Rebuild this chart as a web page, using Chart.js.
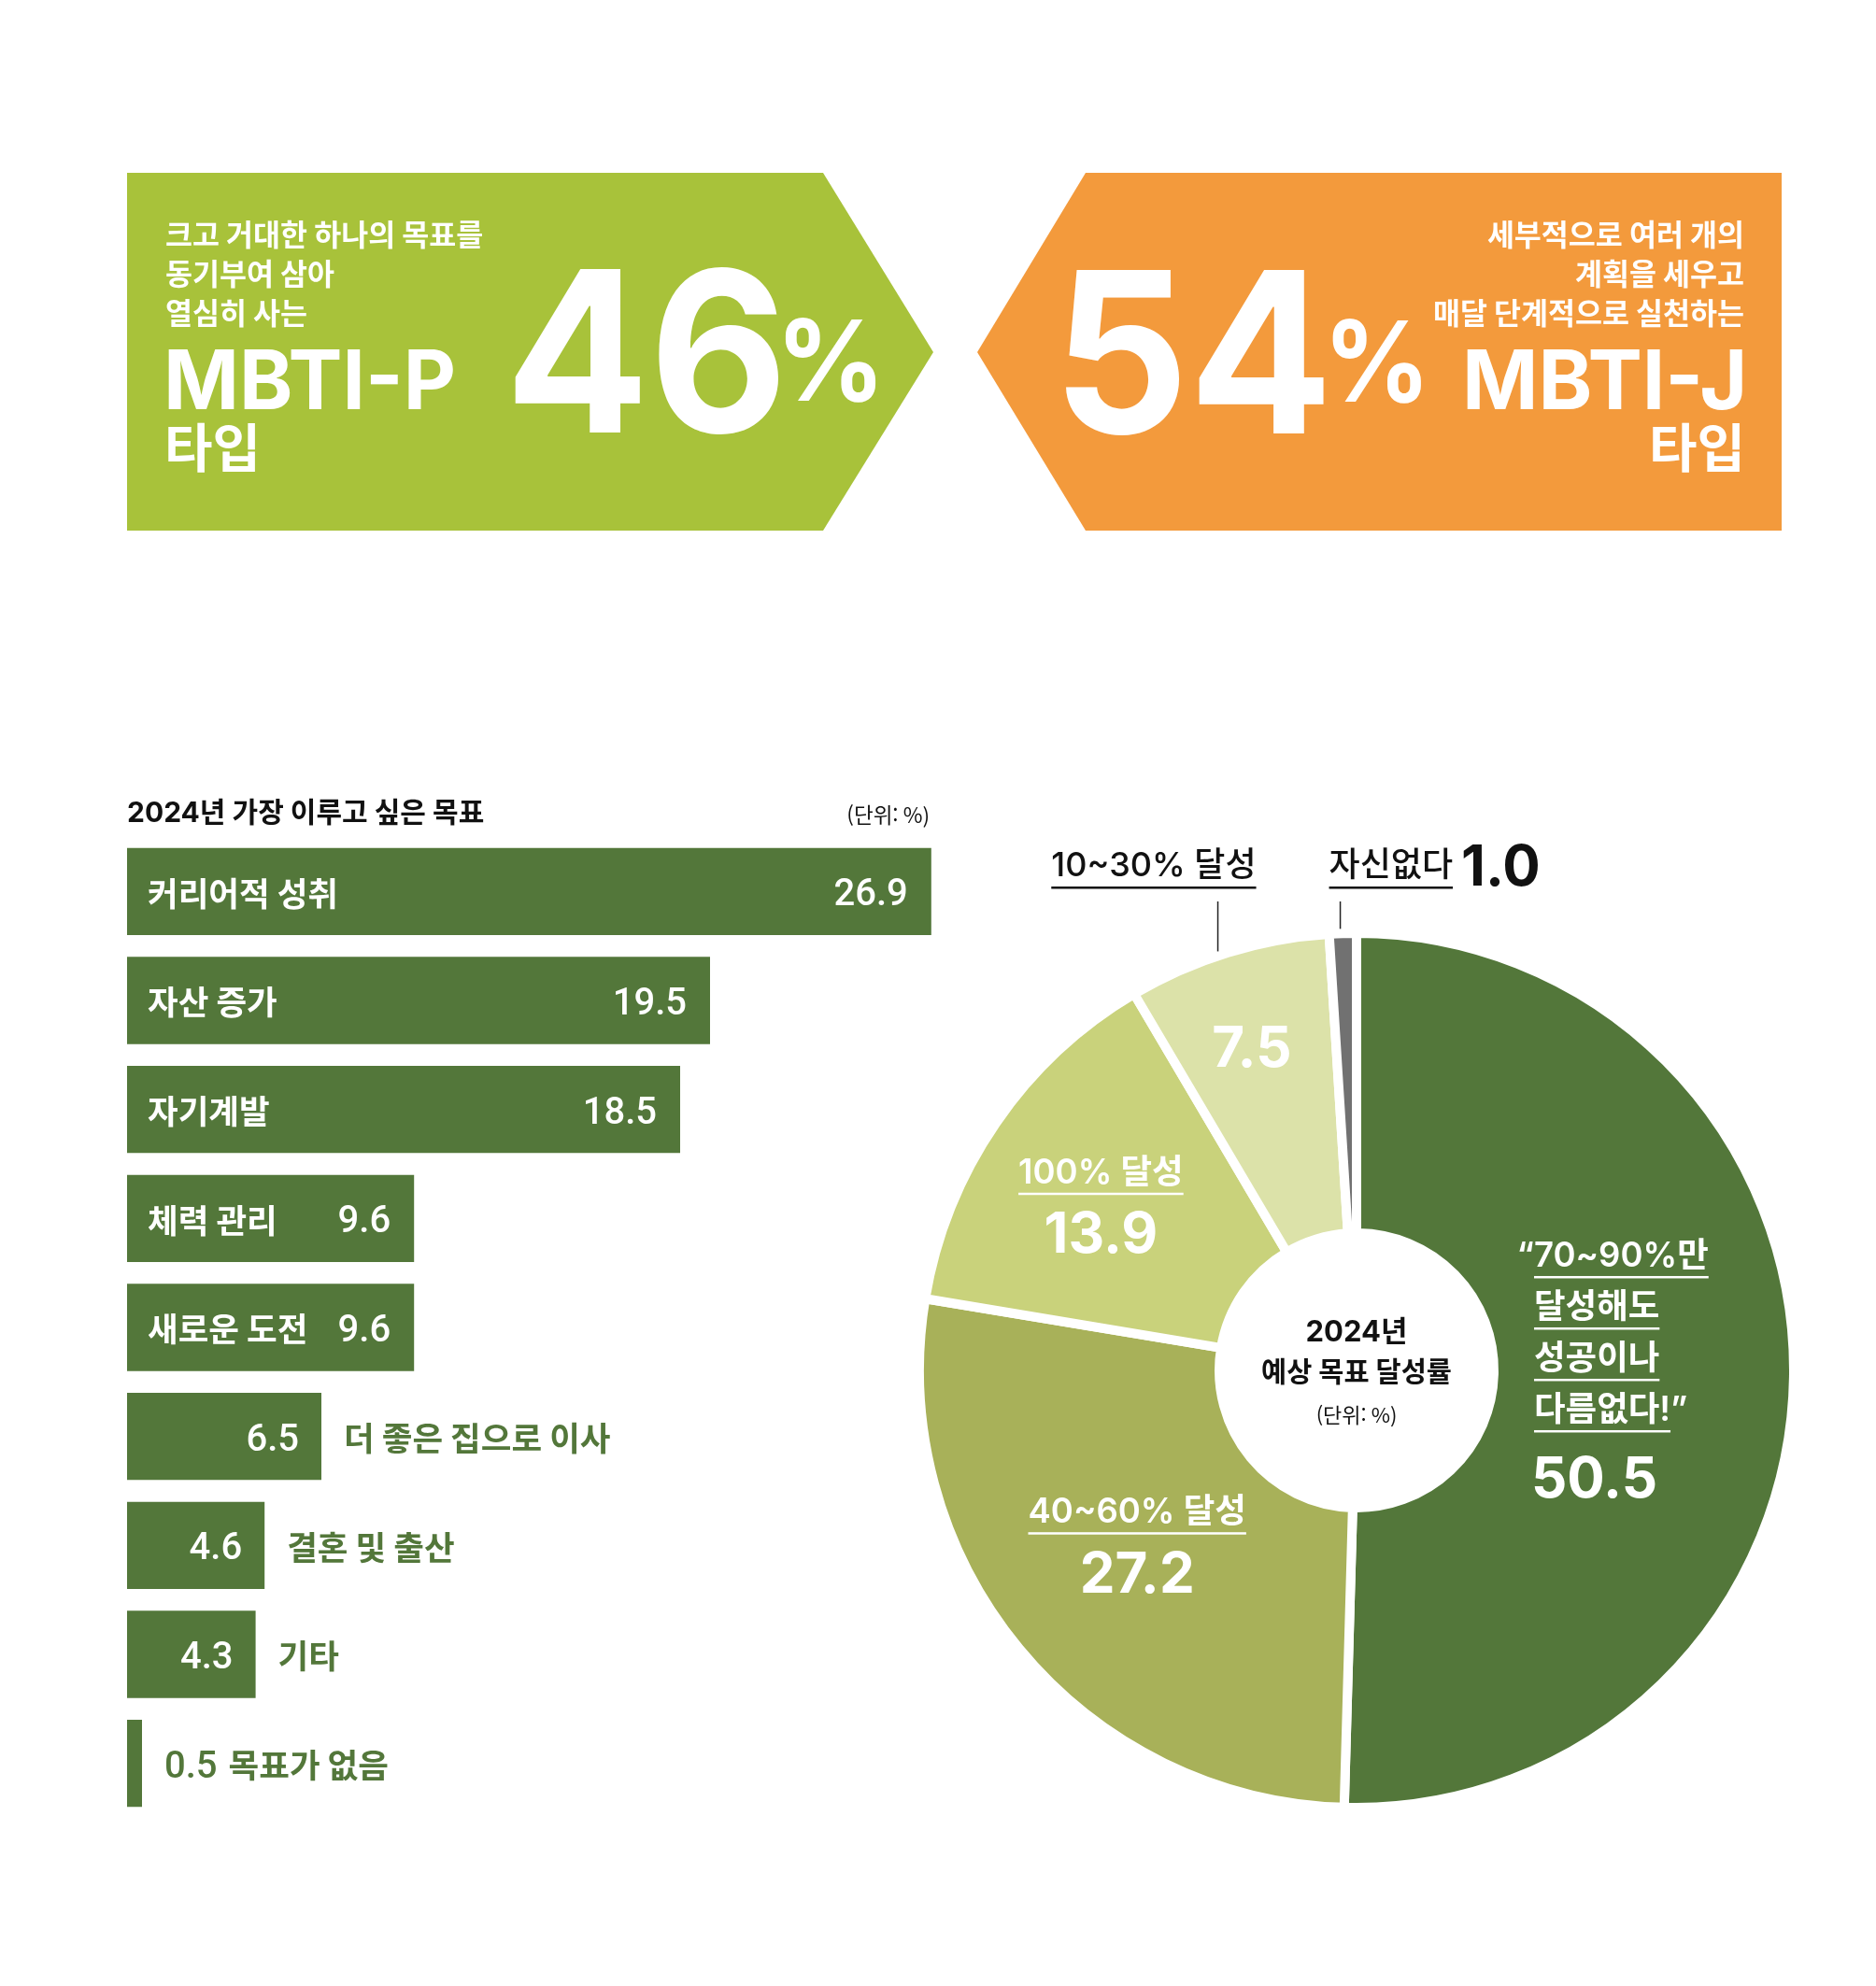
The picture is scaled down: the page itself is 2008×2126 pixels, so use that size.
<!DOCTYPE html>
<html lang="ko">
<head>
<meta charset="utf-8">
<title>2024 목표 달성률</title>
<script src="https://cdn.jsdelivr.net/npm/chart.js@4.4.1/dist/chart.umd.min.js"></script>
<style>
  html, body { margin: 0; padding: 0; background: #fff; }
  body { width: 2008px; height: 2126px; position: relative; overflow: hidden; }
  canvas { position: absolute; }
  #page { left: 0; top: 0; }
  #goalChart { left: 136px; top: 896px; }
  #rateChart { left: 969px; top: 880px; }
</style>
</head>
<body>
<canvas id="page" width="2008" height="2126"></canvas>
<canvas id="goalChart" width="880" height="1050"></canvas>
<canvas id="rateChart" width="966" height="1110"></canvas>
<script>
// 상단 MBTI 비율
const typeNames = ['MBTI-P', 'MBTI-J'];
const typeShares = [46, 54];
const typeDescP = ['크고 거대한 하나의 목표를', '동기부여 삼아', '열심히 사는'];
const typeDescJ = ['세부적으로 여러 개의', '계획을 세우고', '매달 단계적으로 실천하는'];
const typeSuffix = '타입';

// 2024년 가장 이루고 싶은 목표
const goalTitle = '2024년 가장 이루고 싶은 목표';
const goalLabels = ['커리어적 성취', '자산 증가', '자기계발', '체력 관리', '새로운 도전',
                    '더 좋은 집으로 이사', '결혼 및 출산', '기타', '목표가 없음'];
const goalValues = [26.9, 19.5, 18.5, 9.6, 9.6, 6.5, 4.6, 4.3, 0.5];

// 예상 목표 달성률
const rateCenter = ['2024년', '예상 목표 달성률'];
const rateLabels = [
    ['“70~90%만', '달성해도', '성공이나', '다름없다!”'],
    ['40~60% 달성'],
    ['100% 달성'],
    ['10~30% 달성'],
    ['자신없다']
];
const rateValues = [50.5, 27.2, 13.9, 7.5, 1.0];
const unitText = '(단위: %)';

// 스타일
const GREEN = '#53773A';
const LIME = '#A8C23A';
const ORANGE = '#F39A3C';
const INK = '#111';
const RATE_COLORS = ['#53773A', '#A8B159', '#C9D27B', '#DCE2A9', '#717171'];
const KR = '"Noto Sans CJK KR", "Noto Sans", sans-serif';
const NUM = 'Inter, "Noto Sans CJK KR", sans-serif';

// 잉크 폭을 맞춰서 글자 그리기
function fitInk(ctx, text, x0, x1, baseline) {
    ctx.textAlign = 'left';
    ctx.textBaseline = 'alphabetic';
    const m = ctx.measureText(text);
    const ink = m.actualBoundingBoxLeft + m.actualBoundingBoxRight;
    ctx.save();
    ctx.translate(x0, baseline);
    ctx.scale((x1 - x0) / ink, 1);
    ctx.fillText(text, m.actualBoundingBoxLeft, 0);
    ctx.restore();
}

function polygon(ctx, color, pts) {
    ctx.fillStyle = color;
    ctx.beginPath();
    pts.forEach(([x, y], i) => i ? ctx.lineTo(x, y) : ctx.moveTo(x, y));
    ctx.closePath();
    ctx.fill();
}

// 밑줄 텍스트 (y = 글자 중심)
function underlined(ctx, text, x, y, align, color, gap) {
    ctx.fillStyle = color;
    ctx.textAlign = 'left';
    ctx.textBaseline = 'middle';
    const lead = text.startsWith('“') ? '“' : '';
    const core = text.replace(/^“/, '').replace(/”$/, '');
    const w = ctx.measureText(core).width;
    const left = align === 'center' ? x - w / 2 : x;
    const leadW = lead ? ctx.measureText(lead).width : 0;
    ctx.fillText(text, left - leadW, y);
    ctx.fillRect(left, y + gap, w, 2.5);
    return { left, right: left + w };
}

function drawPage() {
    const ctx = document.getElementById('page').getContext('2d');

    polygon(ctx, LIME, [[136, 185], [881, 185], [999, 377], [881, 568], [136, 568]]);
    polygon(ctx, ORANGE, [[1046, 377], [1162, 185], [1907, 185], [1907, 568], [1162, 568]]);

    ctx.fillStyle = '#fff';
    ctx.font = `700 31.5px ${KR}`;
    ctx.textBaseline = 'middle';
    ctx.textAlign = 'left';
    typeDescP.forEach((t, i) => ctx.fillText(t, 177, 251 + i * 42));
    ctx.textAlign = 'right';
    typeDescJ.forEach((t, i) => ctx.fillText(t, 1867, 251 + i * 42));

    ctx.font = `700 56px ${KR}`;
    ctx.textAlign = 'left';
    ctx.fillText(typeSuffix, 176, 479);
    ctx.textAlign = 'right';
    ctx.fillText(typeSuffix, 1868, 479);

    ctx.font = `700 88px ${NUM}`;
    fitInk(ctx, typeNames[0], 180, 485, 438);
    fitInk(ctx, typeNames[1], 1570, 1865, 438);

    ctx.font = `700 240px ${NUM}`;
    fitInk(ctx, String(typeShares[0]), 551, 833, 463);
    fitInk(ctx, String(typeShares[1]), 1141, 1417, 464);
    ctx.font = `700 120px ${NUM}`;
    fitInk(ctx, '%', 840, 937, 429);
    fitInk(ctx, '%', 1426, 1521, 430);

    // 막대 차트 제목
    ctx.fillStyle = INK;
    ctx.textBaseline = 'middle';
    ctx.textAlign = 'left';
    ctx.font = `700 30px ${NUM}`;
    ctx.fillText(goalTitle, 136, 871);
    ctx.textAlign = 'right';
    ctx.font = `400 22.5px ${KR}`;
    ctx.fillText(unitText, 995, 872);
}

const NAME_FONT = `700 35.5px ${KR}`;
const VALUE_FONT = `500 40px Roboto, ${KR}`;

const goalLabelPlugin = {
    id: 'goalLabels',
    afterDatasetsDraw(chart) {
        const { ctx } = chart;
        const bars = chart.getDatasetMeta(0).data;
        ctx.save();
        ctx.textBaseline = 'middle';
        bars.forEach((bar, i) => {
            const name = goalLabels[i];
            const num = goalValues[i].toFixed(1);
            const w = bar.x - bar.base;
            const ny = bar.y + 2, vy = bar.y + 5;
            if (w > 250) {
                ctx.fillStyle = '#fff';
                ctx.font = NAME_FONT;
                ctx.textAlign = 'left';
                ctx.fillText(name, bar.base + 22, ny);
                ctx.font = VALUE_FONT;
                ctx.textAlign = 'right';
                ctx.fillText(num, bar.x - 25, vy);
            } else if (w > 60) {
                ctx.fillStyle = '#fff';
                ctx.font = VALUE_FONT;
                ctx.textAlign = 'right';
                ctx.fillText(num, bar.x - 24, vy);
                ctx.fillStyle = GREEN;
                ctx.font = NAME_FONT;
                ctx.textAlign = 'left';
                ctx.fillText(name, bar.x + 24, ny);
            } else {
                ctx.fillStyle = GREEN;
                ctx.font = VALUE_FONT;
                ctx.textAlign = 'left';
                ctx.fillText(num, bar.x + 24, vy);
                const nw = ctx.measureText(num).width;
                ctx.font = NAME_FONT;
                ctx.fillText(name, bar.x + 24 + nw + 12, ny);
            }
        });
        ctx.restore();
    }
};

// 도넛 라벨 위치 (r: 중심에서 거리, t: 조각 안 각도 비율)
const ratePlacement = [
    { title: 'inside', r: 190, t: 0.493, align: 'left', gap: 93 },
    { title: 'inside', r: 300, t: 0.51, align: 'center', gap: 86 },
    { title: 'inside', r: 326, t: 0.47, align: 'center', gap: 85 },
    { title: 'outside', r: 365, t: 0.47, leaderT: 0.44, textRight: 41 },
    { title: 'outside', valueOutside: true, leaderT: 0.4, textLeft: -12 }
];

const rateLabelPlugin = {
    id: 'rateLabels',
    afterDatasetsDraw(chart) {
        const { ctx } = chart;
        const arcs = chart.getDatasetMeta(0).data;
        const cx = arcs[0].x, cy = arcs[0].y;
        const edge = arcs[0].outerRadius - 5;
        const NUM_FONT = `700 60px ${NUM}`;
        const TITLE_FONT = `600 36.5px ${NUM}`;
        const OUT_FONT = `500 36px ${NUM}`;
        const rowY = cy - 540;

        ctx.save();
        arcs.forEach((arc, i) => {
            const p = ratePlacement[i];
            const at = f => arc.startAngle + (arc.endAngle - arc.startAngle) * f;
            const num = rateValues[i].toFixed(1);
            const lines = rateLabels[i];

            if (p.title === 'inside') {
                const a = at(p.t);
                const ax = cx + Math.cos(a) * p.r;
                const ay = cy + Math.sin(a) * p.r;
                const H = 17 + 55 * (lines.length - 1) + p.gap;
                const y = ay - H / 2 + 17;
                ctx.font = TITLE_FONT;
                lines.forEach((ln, k) => underlined(ctx, ln, ax, y + k * 55, p.align, '#fff', 21));
                ctx.font = NUM_FONT;
                ctx.fillStyle = '#fff';
                ctx.textBaseline = 'alphabetic';
                ctx.textAlign = p.align;
                ctx.fillText(num, p.align === 'left' ? ax - 3 : ax, y + 55 * (lines.length - 1) + p.gap);
                return;
            }

            // 바깥 라벨 + 지시선
            const la = at(p.leaderT);
            const lx = cx + Math.cos(la) * edge;
            const ly = cy + Math.sin(la) * edge;
            ctx.strokeStyle = '#222';
            ctx.lineWidth = 1.5;
            ctx.beginPath();
            ctx.moveTo(lx, cy - 502);
            ctx.lineTo(lx, ly - 10);
            ctx.stroke();

            ctx.font = OUT_FONT;
            const w = ctx.measureText(lines[0]).width;
            const left = p.textRight !== undefined ? lx + p.textRight - w : lx + p.textLeft;
            const ext = underlined(ctx, lines[0], left, rowY, 'left', INK, 22);

            if (p.valueOutside) {
                ctx.font = NUM_FONT;
                ctx.fillStyle = INK;
                ctx.textAlign = 'left';
                ctx.textBaseline = 'alphabetic';
                ctx.fillText(num, ext.right + 9, cy - 519);
            } else {
                const a = at(p.t);
                ctx.font = NUM_FONT;
                ctx.fillStyle = '#fff';
                ctx.textAlign = 'center';
                ctx.textBaseline = 'alphabetic';
                ctx.fillText(num, cx + Math.cos(a) * p.r, cy + Math.sin(a) * p.r + 22);
            }
        });

        // 가운데 제목
        ctx.fillStyle = INK;
        ctx.textAlign = 'center';
        ctx.textBaseline = 'middle';
        ctx.font = `700 31px ${NUM}`;
        ctx.fillText(rateCenter[0], cx, cy - 40);
        ctx.font = `700 29.5px ${NUM}`;
        ctx.fillText(rateCenter[1], cx, cy + 3);
        ctx.font = `400 22px ${KR}`;
        ctx.fillText(unitText, cx, cy + 48);
        ctx.restore();
    }
};

const ChartManager = {
    initGoalChart() {
        new Chart(document.getElementById('goalChart'), {
            type: 'bar',
            data: {
                labels: goalLabels,
                datasets: [{
                    data: goalValues,
                    backgroundColor: GREEN,
                    barPercentage: 0.8,
                    categoryPercentage: 1
                }]
            },
            options: {
                indexAxis: 'y',
                responsive: false,
                animation: false,
                devicePixelRatio: 1,
                layout: { padding: 0 },
                scales: {
                    x: { display: false, min: 0, max: 27.5 },
                    y: { display: false }
                },
                plugins: { legend: { display: false }, tooltip: { enabled: false } }
            },
            plugins: [goalLabelPlugin]
        });
    },

    initRateChart() {
        new Chart(document.getElementById('rateChart'), {
            type: 'doughnut',
            data: {
                labels: rateLabels.map(l => l.join(' ')),
                datasets: [{
                    data: rateValues,
                    backgroundColor: RATE_COLORS,
                    borderColor: '#fff',
                    borderWidth: 10,
                    hoverOffset: 0
                }]
            },
            options: {
                responsive: false,
                animation: false,
                devicePixelRatio: 1,
                radius: 468,
                cutout: '31.4%',
                layout: { padding: { top: 124, bottom: 60, left: 20, right: 20 } },
                plugins: { legend: { display: false }, tooltip: { enabled: false } }
            },
            plugins: [rateLabelPlugin]
        });
    }
};

drawPage();
ChartManager.initGoalChart();
ChartManager.initRateChart();
</script>
</body>
</html>
